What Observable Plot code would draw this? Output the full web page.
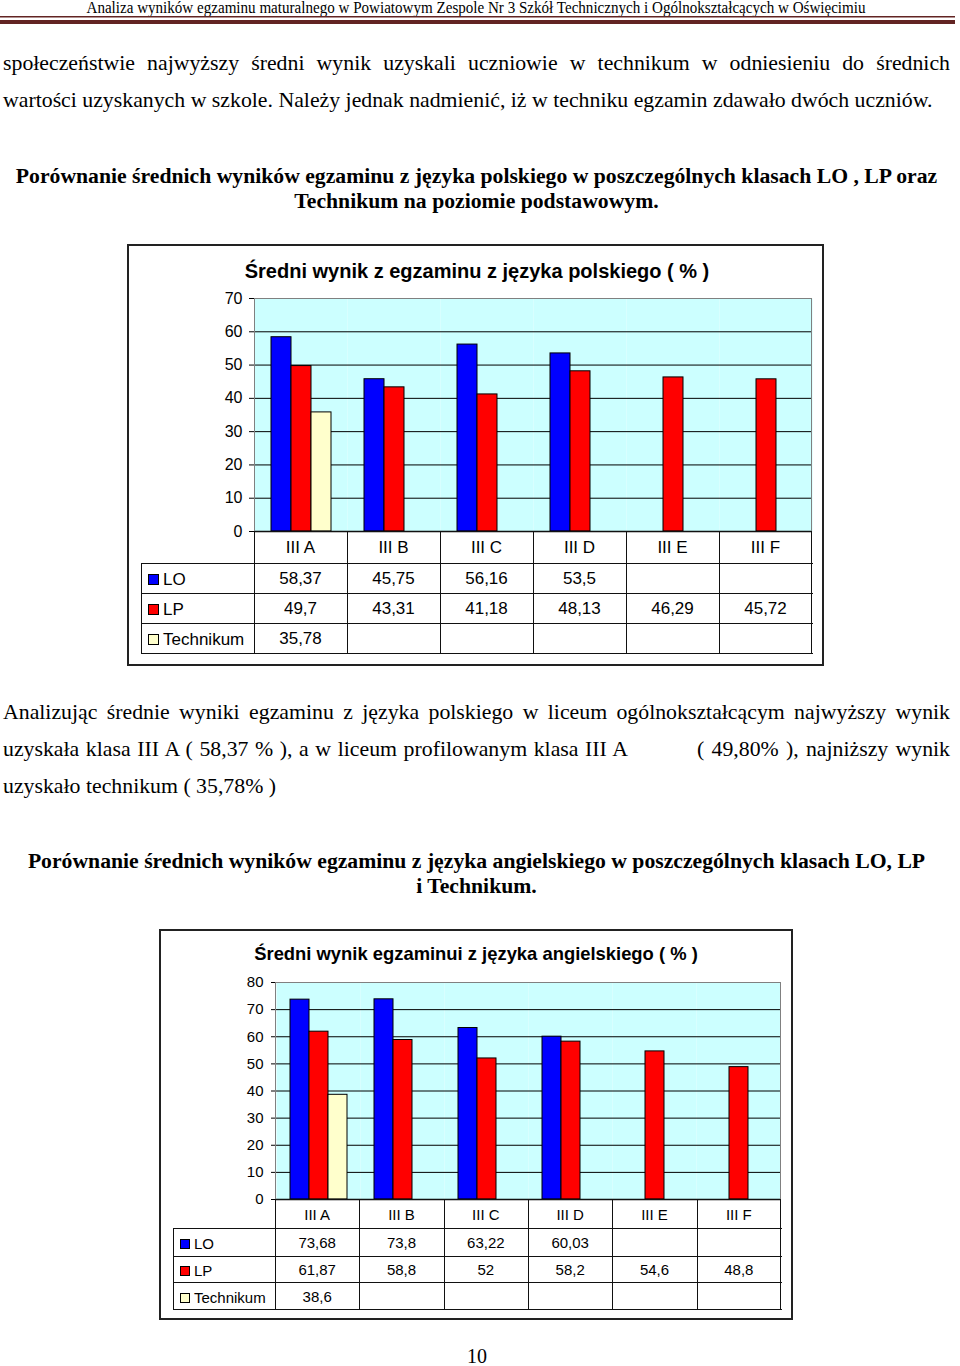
<!DOCTYPE html>
<html><head><meta charset="utf-8">
<script src="https://cdn.jsdelivr.net/npm/d3@7"></script>
<script src="https://cdn.jsdelivr.net/npm/@observablehq/plot@0.6"></script>
<style>
body{margin:0;background:#fff;}
#page{position:relative;width:960px;height:1366px;overflow:hidden;background:#fff;}
.abs{position:absolute;}
.serif{font-family:"Liberation Serif","Times New Roman",serif;color:#000;}
.sans{font-family:"Liberation Sans",Arial,sans-serif;color:#000;}
.line{position:absolute;white-space:nowrap;font-size:21.8px;line-height:24px;}
.head{font-size:21.7px;}
.just{text-align:justify;text-align-last:justify;white-space:normal;}
.center{text-align:center;}
.bold{font-weight:bold;}
</style></head><body><div id="page"></div>
<script>
// ---------- data ----------
const classes = ["III A","III B","III C","III D","III E","III F"];
const seriesNames = ["LO","LP","Technikum"];
const seriesColors = ["#0000ff","#ff0000","#ffffcc"];
const polishLO   = [58.37,45.75,56.16,53.5,null,null];
const polishLP   = [49.7,43.31,41.18,48.13,46.29,45.72];
const polishTech = [35.78,null,null,null,null,null];
const englishLO   = [73.68,73.8,63.22,60.03,null,null];
const englishLP   = [61.87,58.8,52,58.2,54.6,48.8];
const englishTech = [38.6,null,null,null,null,null];
const polishTicks  = [0,10,20,30,40,50,60,70];
const englishTicks = [0,10,20,30,40,50,60,70,80];

const page = document.getElementById("page");
function el(tag, cls, css, html){
  const e = document.createElement(tag);
  if(cls) e.className = cls;
  Object.assign(e.style, css||{});
  if(html!=null) e.textContent = html;
  page.appendChild(e);
  return e;
}

// ---------- header ----------
const hdr = document.createElementNS("http://www.w3.org/2000/svg","svg");
hdr.setAttribute("width",960); hdr.setAttribute("height",30);
Object.assign(hdr.style,{position:"absolute",left:"0px",top:"0px"});
hdr.innerHTML = `<text x="476" y="12.5" text-anchor="middle" textLength="779" lengthAdjust="spacingAndGlyphs" font-family="Liberation Serif, serif" font-size="16">Analiza wyników egzaminu maturalnego w Powiatowym Zespole Nr 3 Szkół Technicznych i Ogólnokształcących w Oświęcimiu</text>
<rect x="0" y="16" width="955" height="1.5" fill="#622423"/>
<rect x="0" y="20" width="955" height="4" fill="#622423"/>`;
page.appendChild(hdr);

// ---------- body text ----------
el("div","line serif just",{left:"3px",top:"51px",width:"947px"},"społeczeństwie najwyższy średni wynik uzyskali uczniowie w technikum  w  odniesieniu do średnich");
el("div","line serif",{left:"3px",top:"88px"},"wartości uzyskanych w szkole. Należy jednak nadmienić, iż w techniku egzamin zdawało dwóch uczniów.");
el("div","line head serif bold center",{left:"0px",top:"164px",width:"953px"},"Porównanie średnich wyników egzaminu z języka polskiego w poszczególnych klasach LO , LP oraz");
el("div","line head serif bold center",{left:"0px",top:"189px",width:"953px"},"Technikum na poziomie podstawowym.");

el("div","line serif just",{left:"3px",top:"700px",width:"947px"},"Analizując średnie wyniki egzaminu z języka polskiego w liceum ogólnokształcącym najwyższy wynik");
el("div","line serif just",{left:"3px",top:"737px",width:"625px"},"uzyskała klasa III A ( 58,37 % ),  a w liceum profilowanym klasa III A");
el("div","line serif just",{left:"697px",top:"737px",width:"253px"},"( 49,80%  ), najniższy wynik");
el("div","line serif",{left:"3px",top:"774px"},"uzyskało technikum ( 35,78% )");
el("div","line head serif bold center",{left:"0px",top:"849px",width:"953px"},"Porównanie średnich wyników egzaminu z języka angielskiego w poszczególnych klasach LO, LP");
el("div","line head serif bold center",{left:"0px",top:"874px",width:"953px"},"i Technikum.");
el("div","line serif center",{left:"0px",top:"1344px",width:"954px",fontSize:"20px"},"10");

// ---------- chart builder ----------
const fmt = v => v==null ? "" : String(v).replace(".",",");

function chart(c){
  // outer box
  el("div","",{position:"absolute",left:c.box[0]+"px",top:c.box[1]+"px",width:c.box[2]+"px",height:c.box[3]+"px",border:"2px solid #222",boxSizing:"border-box"});
  // title
  el("div","sans bold center",{position:"absolute",left:c.titleX[0]+"px",width:c.titleX[1]+"px",top:c.titleY+"px",fontSize:c.titleFs+"px",lineHeight:"1",whiteSpace:"nowrap"},c.title);

  const data = [];
  c.series.forEach((vals,si)=>vals.forEach((v,ci)=>{ if(v!=null) data.push({cls:classes[ci], s:seriesNames[si], v}); }));
  const ymax = c.ticks[c.ticks.length-1];
  const pl = Plot.plot({
    width:c.w, height:c.h, marginLeft:c.ml, marginRight:c.mr, marginTop:c.mt, marginBottom:c.mb,
    style:{fontFamily:"Liberation Sans, Arial, sans-serif", fontSize:c.fs+"px", color:"#000", background:"transparent", overflow:"visible"},
    fx:{domain:classes, padding:0, axis:null, label:null},
    x:{domain:seriesNames, paddingInner:0, paddingOuter:c.po, axis:null, label:null},
    y:{domain:[0,ymax], axis:null, label:null},
    color:{domain:seriesNames, range:seriesColors},
    marks:[
      Plot.frame({fill:"#ccffff", stroke:"none"}),
      Plot.ruleY(c.ticks.slice(1,-1), {stroke:"#000", strokeWidth:1}),
      Plot.ruleY([ymax], {stroke:"#808080", strokeWidth:1}),
      Plot.barY(data,{fx:"cls", x:"s", y:"v", fill:"s", stroke:"#000", strokeWidth:1}),
      Plot.ruleY([0],{stroke:"#000", strokeWidth:1.5}),
      Plot.axisY(c.ticks,{tickSize:5, tickPadding:c.tp, fontSize:c.fs, label:null, stroke:"#000", fill:"#000"})
    ]
  });
  Object.assign(pl.style,{position:"absolute",left:c.left+"px",top:c.top+"px"});
  page.appendChild(pl);

  // plot-area border (left/right)
  const px0 = c.left + c.ml, px1 = c.left + c.w - c.mr;
  const py0 = c.top + c.mt, py1 = c.top + c.h - c.mb;
  el("div","",{position:"absolute",left:px0+"px",top:py0+"px",width:(px1-px0)+"px",height:(py1-py0)+"px",borderLeft:"1px solid #808080",borderRight:"1px solid #808080",boxSizing:"border-box",pointerEvents:"none"});

  // data table
  const colW = (px1-px0)/classes.length;
  const ys = c.rowsY; // [top of header, LO, LP, Tech, bottom]
  const lineC = "#111";
  el("div","",{position:"absolute",left:px0+"px",top:(ys[0])+"px",width:(px1-px0)+"px",height:"1px",background:lineC});
  for(let r=1;r<ys.length;r++){
    el("div","",{position:"absolute",left:c.legX+"px",top:ys[r]+"px",width:(px1-c.legX+1)+"px",height:"1px",background:lineC});
  }
  for(let k=0;k<=classes.length;k++){
    const x = px0 + k*colW;
    el("div","",{position:"absolute",left:(Math.round(x)-(k===classes.length?1:0))+"px",top:ys[0]+"px",width:"1px",height:(ys[ys.length-1]-ys[0]+1)+"px",background:lineC});
  }
  el("div","",{position:"absolute",left:c.legX+"px",top:ys[1]+"px",width:"1px",height:(ys[ys.length-1]-ys[1]+1)+"px",background:lineC});
  classes.forEach((cl,k)=>{
    el("div","sans center",{position:"absolute",left:(px0+k*colW)+"px",width:colW+"px",top:ys[0]+"px",height:(ys[1]-ys[0])+"px",lineHeight:(ys[1]-ys[0]+2)+"px",fontSize:c.tfs+"px"},cl);
  });
  seriesNames.forEach((s,si)=>{
    const t = ys[si+1], hgt = ys[si+2]-ys[si+1];
    const lab = el("div","sans",{position:"absolute",left:(c.legX+7)+"px",top:t+"px",height:hgt+"px",lineHeight:(hgt+4)+"px",fontSize:c.tfs+"px",whiteSpace:"nowrap"});
    const sq = document.createElement("span");
    Object.assign(sq.style,{display:"inline-block",width:c.sq+"px",height:c.sq+"px",background:seriesColors[si],border:"1px solid #000",boxSizing:"border-box",marginRight:"4px",verticalAlign:"0px"});
    lab.appendChild(sq);
    lab.appendChild(document.createTextNode(s));
    c.series[si].forEach((v,k)=>{
      if(v==null) return;
      el("div","sans center",{position:"absolute",left:(px0+k*colW)+"px",width:colW+"px",top:t+"px",height:hgt+"px",lineHeight:(hgt+2)+"px",fontSize:c.tfs+"px"},fmt(v));
    });
  });
}

chart({
  box:[127,244,697,422],
  title:"Średni wynik z egzaminu z języka polskiego ( % )", titleX:[127,700], titleY:261, titleFs:20,
  series:[polishLO,polishLP,polishTech], ticks:polishTicks,
  left:140, top:270, w:684, h:265, ml:114, mr:12, mt:28, mb:4, po:0.77, fs:16, tp:7,
  legX:141, rowsY:[531,563,593,623,653], tfs:17, sq:11
});
chart({
  box:[159,929,634,391],
  title:"Średni wynik egzaminui z języka angielskiego ( % )", titleX:[159,634], titleY:945, titleFs:18.4,
  series:[englishLO,englishLP,englishTech], ticks:englishTicks,
  left:170, top:960, w:623, h:243, ml:105, mr:12, mt:22, mb:4, po:0.68, fs:15, tp:8,
  legX:173, rowsY:[1199,1228,1256,1282,1309], tfs:15, sq:10
});
</script>
</body></html>
